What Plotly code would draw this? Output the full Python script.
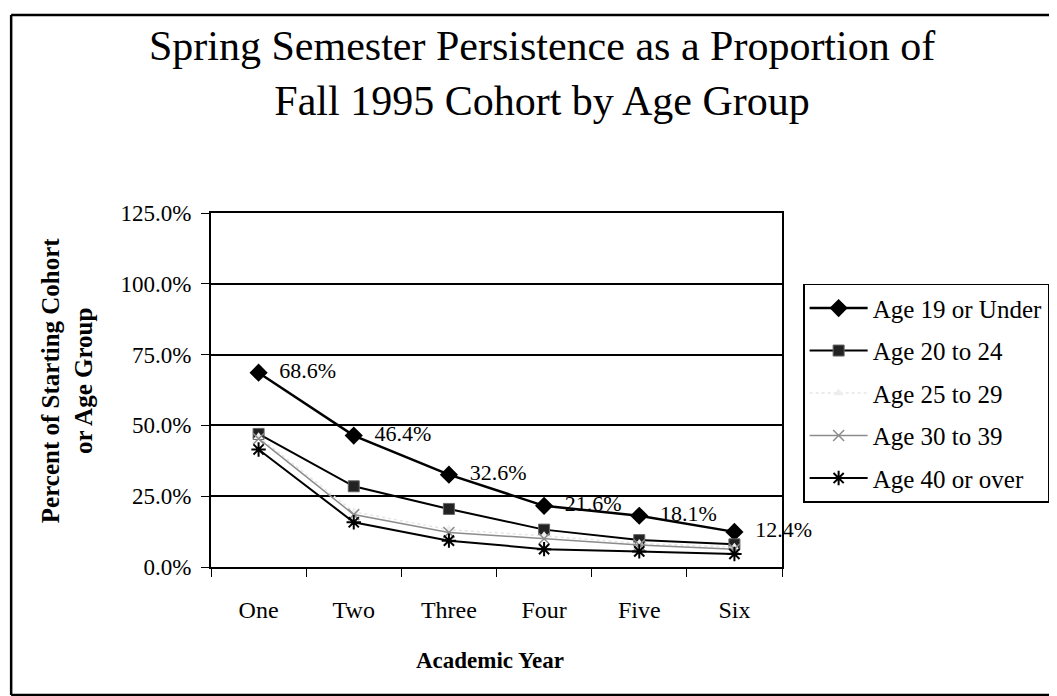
import plotly.graph_objects as go

# Datos
years = ["One", "Two", "Three", "Four", "Five", "Six"]
age_19_under = [68.6, 46.4, 32.6, 21.6, 18.1, 12.4]
age_20_24 = [47.0, 28.5, 20.5, 13.2, 9.5, 8.0]
age_25_29 = [46.0, 19.5, 13.2, 11.0, 8.3, 7.0]
age_30_39 = [45.3, 18.5, 12.2, 10.0, 7.8, 6.3]
age_40_over = [41.5, 15.8, 9.3, 6.3, 5.5, 4.6]
series_names = ["Age 19 or Under", "Age 20 to 24", "Age 25 to 29", "Age 30 to 39", "Age 40 or over"]

FONT = "Liberation Serif"

fig = go.Figure()

# Serie principal con etiquetas
fig.add_trace(go.Scatter(
    x=years, y=age_19_under, name=series_names[0], legendgroup="a",
    mode="lines+markers+text",
    text=[f"  {v:.1f}%" for v in age_19_under],
    textposition="middle right",
    textfont=dict(family=FONT, size=22, color="black"),
    cliponaxis=False,
    line=dict(color="black", width=2.5),
    marker=dict(symbol="diamond", size=14, color="black"),
))
fig.add_trace(go.Scatter(
    x=years, y=age_20_24, name=series_names[1], legendgroup="b",
    mode="lines+markers",
    line=dict(color="black", width=2),
    marker=dict(symbol="square", size=11, color="#222222", line=dict(color="#666666", width=1)),
))
fig.add_trace(go.Scatter(
    x=years, y=age_25_29, name=series_names[2], legendgroup="c",
    mode="lines+markers",
    line=dict(color="#e6e6e6", width=1.5, dash="dot"),
    marker=dict(symbol="triangle-up", size=9, color="#eeeeee"),
))
fig.add_trace(go.Scatter(
    x=years, y=age_30_39, name=series_names[3], legendgroup="d",
    mode="lines+markers",
    line=dict(color="#8c8c8c", width=1.5),
    marker=dict(symbol="x-thin-open", size=11, color="#8c8c8c", line=dict(width=1.5, color="#777777")),
))
fig.add_trace(go.Scatter(
    x=years, y=age_40_over, name=series_names[4], legendgroup="e",
    mode="lines+markers",
    line=dict(color="black", width=2),
    marker=dict(symbol="asterisk-open", size=12, color="black", line=dict(width=2, color="black")),
))

# Marco exterior: solo arriba, izquierda y abajo (el escaneo corta el borde derecho)
for x0, y0, x1, y1 in [(-0.35, 1.559, 1.6, 1.559), (-0.35, -0.3616, -0.35, 1.559), (-0.35, -0.3616, 1.6, -0.3616)]:
    fig.add_shape(type="line", xref="paper", yref="paper", x0=x0, y0=y0, x1=x1, y1=y1,
                  line=dict(color="black", width=2.5), layer="below")

# Título
fig.add_annotation(
    text="Spring Semester Persistence as a Proportion of<br>Fall 1995 Cohort by Age Group",
    xref="paper", yref="paper", x=0.58, y=1.393, xanchor="center", yanchor="middle",
    showarrow=False, font=dict(family=FONT, size=42, color="black"),
)
# Título eje Y
fig.add_annotation(
    text="<b>Percent of Starting Cohort<br>or Age Group</b>",
    xref="paper", yref="paper", x=-0.252, y=0.528, xanchor="center", yanchor="middle",
    textangle=-90, showarrow=False, font=dict(family=FONT, size=25, color="black"),
)
# Título eje X
fig.add_annotation(
    text="<b>Academic Year</b>",
    xref="paper", yref="paper", x=0.489, y=-0.263, xanchor="center", yanchor="middle",
    showarrow=False, font=dict(family=FONT, size=23, color="black"),
)

fig.update_layout(
    width=1057, height=696,
    margin=dict(l=203, r=283, t=205, b=137),
    paper_bgcolor="white",
    plot_bgcolor="white",
    font=dict(family=FONT, size=23, color="black"),
    showlegend=True,
    legend=dict(
        x=1.037, y=0.80, xanchor="left", yanchor="top",
        bordercolor="black", borderwidth=1.5, bgcolor="white",
        font=dict(family=FONT, size=25, color="black"),
        tracegroupgap=7, itemwidth=58, traceorder="grouped",
    ),
    xaxis=dict(
        type="category", range=[-0.5, 5.5],
        showline=True, linecolor="black", linewidth=2, mirror=True,
        ticks="outside", tickson="boundaries", ticklen=8, tickcolor="black",
        showgrid=False, tickfont=dict(family=FONT, size=24),
        ticklabelstandoff=20,
    ),
    yaxis=dict(
        range=[0, 125], dtick=25, tickformat=".1f", ticksuffix="%",
        showline=True, linecolor="black", linewidth=2, mirror=True,
        ticks="outside", ticklen=8, tickcolor="black",
        showgrid=True, gridcolor="black", gridwidth=1.5,
        zeroline=False, tickfont=dict(family=FONT, size=23),
        ticklabelstandoff=5,
    ),
)

fig.write_html("out.html")
